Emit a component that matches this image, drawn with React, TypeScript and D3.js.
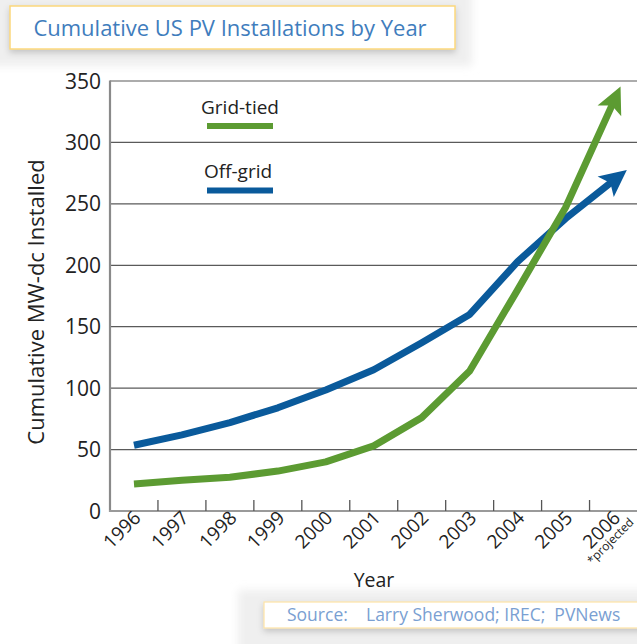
import React from "react";
import * as d3 from "d3";

const years = ["1996", "1997", "1998", "1999", "2000", "2001", "2002", "2003", "2004", "2005", "2006"];
const gridTied = [22, 25, 27.5, 32.5, 40, 53, 76, 114, 180, 247, 333];
const offGrid = [53.5, 62, 72, 84, 98.5, 115, 137, 160, 203, 238, 269];
const yTicks = [0, 50, 100, 150, 200, 250, 300, 350];

const GREEN = "#5c9b32";
const BLUE = "#0a5a9b";
const FONT = "'Open Sans', 'Noto Sans', sans-serif";

export default function App() {
  const W = 637;
  const H = 644;
  const x = d3.scaleBand<string>().domain(years).range([110, 637.5]).paddingInner(0).paddingOuter(0);
  const y = d3.scaleLinear().domain([0, 350]).range([511, 81]);
  const cx = (d: string) => (x(d) as number) + x.bandwidth() / 2;

  const line = d3
    .line<number>()
    .x((_, i) => cx(years[i]))
    .y((v) => y(v))
    .curve(d3.curveLinear);

  const boundaries = years.slice(1).map((yr) => x(yr) as number);

  return (
    <svg
      width={W}
      height={H}
      style={{ position: "absolute", left: 0, top: 0, background: "#fff" }}
      fontFamily={FONT}
    >
      <defs>
        <filter id="blurBg" x="-10%" y="-30%" width="120%" height="160%">
          <feGaussianBlur stdDeviation="4" />
        </filter>
        <filter id="shadow" x="-10%" y="-30%" width="120%" height="180%">
          <feDropShadow dx="0" dy="3" stdDeviation="3" floodColor="#000" floodOpacity="0.18" />
        </filter>
        <marker id="arrowG" viewBox="-30 -16 50 32" refX="0" refY="0" markerWidth="50" markerHeight="32" markerUnits="userSpaceOnUse" orient="auto">
          <path d="M 17 0 L -10 -13 L -4 0 L -10 13 Z" fill={GREEN} />
        </marker>
        <marker id="arrowB" viewBox="-30 -16 50 32" refX="0" refY="0" markerWidth="50" markerHeight="32" markerUnits="userSpaceOnUse" orient="auto">
          <path d="M 17 0 L -10 -13 L -4 0 L -10 13 Z" fill={BLUE} />
        </marker>
      </defs>

      {/* soft gray backdrops */}
      <rect x={-10} y={-10} width={482} height={76} fill="#efefef" filter="url(#blurBg)" />
      <rect x={238} y={590} width={420} height={70} fill="#efefef" filter="url(#blurBg)" />

      {/* title box */}
      <rect x={10} y={6} width={445} height={43} fill="#fff" stroke="#fcd87c" strokeWidth={1.5} filter="url(#shadow)" />
      <text x={230} y={36} textAnchor="middle" fontSize={22} fill="#3f7dbd">
        Cumulative US PV Installations by Year
      </text>

      {/* gridlines */}
      {yTicks.slice(1).map((t) => (
        <line key={t} x1={110} x2={637} y1={y(t)} y2={y(t)} stroke="#5a5a5a" strokeWidth={1.2} />
      ))}

      {/* axes */}
      <line x1={110} x2={110} y1={y(350) - 0.5} y2={y(0) + 1} stroke="#8a8a8a" strokeWidth={2.2} />
      <line x1={109} x2={637} y1={y(0)} y2={y(0)} stroke="#9a9a9a" strokeWidth={2.2} />
      {boundaries.map((b, i) => (
        <line key={i} x1={b} x2={b} y1={y(0)} y2={y(0) - 11} stroke="#555" strokeWidth={1.3} />
      ))}

      {/* y tick labels */}
      {yTicks.map((t) => (
        <text key={t} x={101} y={y(t)} dy="0.36em" textAnchor="end" fontSize={21} fill="#222">
          {t}
        </text>
      ))}

      {/* y axis title */}
      <text
        transform={`translate(44, ${302}) rotate(-90)`}
        textAnchor="middle"
        fontSize={22}
        fill="#222"
      >
        Cumulative MW-dc Installed
      </text>

      {/* x tick labels */}
      {years.map((yr) => (
        <text
          key={yr}
          transform={`translate(${cx(yr) + 8}, ${519}) rotate(-45)`}
          textAnchor="end"
          fontSize={19}
          fill="#222"
        >
          {yr}
        </text>
      ))}
      <text
        transform={`translate(${cx("2006") + 21}, ${523}) rotate(-45)`}
        textAnchor="end"
        fontSize={12}
        fill="#222"
      >
        *projected
      </text>

      {/* x axis title */}
      <text x={374} y={587} textAnchor="middle" fontSize={19.5} fill="#222">
        Year
      </text>

      {/* series */}
      <path d={line(offGrid) as string} fill="none" stroke={BLUE} strokeWidth={7} strokeLinejoin="round" markerEnd="url(#arrowB)" />
      <path d={line(gridTied) as string} fill="none" stroke={GREEN} strokeWidth={7} strokeLinejoin="round" markerEnd="url(#arrowG)" />

      {/* legend */}
      <text x={240} y={114} textAnchor="middle" fontSize={19} fill="#222">
        Grid-tied
      </text>
      <line x1={207} x2={273} y1={126} y2={126} stroke={GREEN} strokeWidth={6} />
      <text x={238} y={178} textAnchor="middle" fontSize={19} fill="#222">
        Off-grid
      </text>
      <line x1={207} x2={273} y1={190.5} y2={190.5} stroke={BLUE} strokeWidth={6} />

      {/* source box */}
      <rect x={264} y={602} width={390} height={26} fill="#fff" stroke="#fde3a6" strokeWidth={1.2} filter="url(#shadow)" />
      <text x={287} y={621} fontSize={17.5} fill="#7a9fd2" xmlSpace="preserve">
        {"Source:    Larry Sherwood; IREC;  PVNews"}
      </text>
    </svg>
  );
}
